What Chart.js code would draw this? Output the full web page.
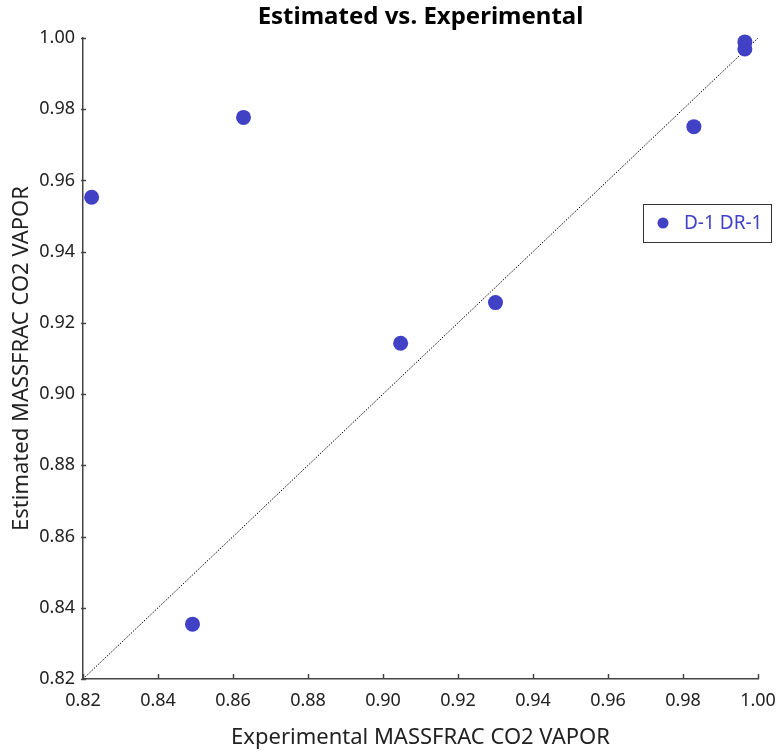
<!DOCTYPE html>
<html>
<head>
<meta charset="utf-8">
<script src="https://cdn.jsdelivr.net/npm/chart.js@4/dist/chart.umd.min.js"></script>
<style>
  html, body { margin: 0; padding: 0; background: #ffffff; }
  #wrap { width: 776px; height: 753px; position: relative; }
</style>
</head>
<body>
<div id="wrap"><canvas id="chart" width="776" height="753"></canvas></div>
<script>
// Experimental vs. estimated CO2 vapour mass fractions
const seriesLabel = 'D-1 DR-1';
const experimental = [0.9965, 0.9965, 0.9829, 0.8628, 0.8223, 0.9300, 0.9047, 0.8492];
const estimated    = [0.9989, 0.9969, 0.9751, 0.9777, 0.9553, 0.9257, 0.9143, 0.8354];
const axisMin = 0.82;
const axisMax = 1.00;
const axisStep = 0.02;
const titleText = 'Estimated vs. Experimental';
const xTitle = 'Experimental MASSFRAC CO2 VAPOR';
const yTitle = 'Estimated MASSFRAC CO2 VAPOR';

const FONT = '"Noto Sans", "Open Sans", sans-serif';
const MARK = '#4141c6';
const AXIS = '#444444';

const points = experimental.map((x, i) => ({ x: x, y: estimated[i] }));
const parity = [{ x: axisMin, y: axisMin }, { x: axisMax, y: axisMax }];

// Title centred over the plot area, inward tick marks and the boxed legend
const decorations = {
  id: 'decorations',
  afterDraw(chart) {
    const { ctx, chartArea: a, scales } = chart;
    ctx.save();
    // title
    ctx.fillStyle = '#000';
    ctx.font = 'bold 24px ' + FONT;
    ctx.textAlign = 'center';
    ctx.textBaseline = 'middle';
    ctx.fillText(titleText, (a.left + a.right) / 2, 17.5);

    // tick marks
    ctx.strokeStyle = AXIS;
    ctx.lineWidth = 1.5;
    scales.x.ticks.forEach(t => {
      const px = Math.round(scales.x.getPixelForValue(t.value)) + 0.5;
      ctx.beginPath();
      ctx.moveTo(px, a.bottom);
      ctx.lineTo(px, a.bottom - 5);
      ctx.stroke();
    });
    scales.y.ticks.forEach(t => {
      const py = Math.round(scales.y.getPixelForValue(t.value)) + 0.5;
      ctx.beginPath();
      ctx.moveTo(a.left - 2, py);
      ctx.lineTo(a.left + 3, py);
      ctx.stroke();
    });

    // legend box
    const ds = chart.data.datasets[1];
    const bx = 643, by = 204, bw = 128, bh = 38;
    ctx.fillStyle = '#ffffff';
    ctx.fillRect(bx, by, bw, bh);
    ctx.strokeStyle = '#333333';
    ctx.lineWidth = 1;
    ctx.strokeRect(bx + 0.5, by + 0.5, bw, bh);
    ctx.fillStyle = ds.backgroundColor;
    ctx.beginPath();
    ctx.arc(bx + 20, by + 19, 5.5, 0, Math.PI * 2);
    ctx.fill();
    ctx.font = '19px ' + FONT;
    ctx.textAlign = 'left';
    ctx.textBaseline = 'middle';
    ctx.fillText(ds.label, bx + 41, by + 20);
    ctx.restore();
  }
};

new Chart(document.getElementById('chart'), {
  type: 'scatter',
  data: {
    datasets: [
      {
        type: 'line',
        label: 'parity',
        data: parity,
        borderColor: '#000000',
        borderWidth: 1,
        borderDash: [1.5, 1.5],
        pointRadius: 0,
        fill: false,
        order: 2
      },
      {
        label: seriesLabel,
        data: points,
        backgroundColor: MARK,
        borderColor: MARK,
        pointRadius: 7.5,
        pointBorderWidth: 0,
        clip: false,
        order: 1
      }
    ]
  },
  options: {
    responsive: false,
    animation: false,
    layout: { padding: { top: 38, right: 18, bottom: 0, left: 0 } },
    plugins: {
      legend: { display: false },
      title: { display: false },
      tooltip: { enabled: false }
    },
    scales: {
      x: {
        type: 'linear',
        min: axisMin,
        max: axisMax,
        ticks: {
          stepSize: axisStep,
          color: '#222',
          font: { family: FONT, size: 18 },
          padding: 11,
          maxRotation: 0,
          callback: v => v.toFixed(2)
        },
        grid: { display: false, drawTicks: false },
        border: { display: true, color: AXIS, width: 1.5 },
        title: {
          display: true,
          text: xTitle,
          color: '#222',
          font: { family: FONT, size: 22 },
          padding: { top: 0, bottom: 2 }
        },
        afterFit: s => { s.height = 74; s.paddingLeft = 0; s.paddingRight = 0; }
      },
      y: {
        type: 'linear',
        min: axisMin,
        max: axisMax,
        ticks: {
          stepSize: axisStep,
          color: '#222',
          font: { family: FONT, size: 18 },
          padding: 8,
          callback: v => v.toFixed(2)
        },
        grid: { display: false, drawTicks: false },
        border: { display: true, color: AXIS, width: 1.5 },
        title: {
          display: true,
          text: yTitle,
          color: '#222',
          font: { family: FONT, size: 22 },
          padding: { top: 9, bottom: 0 }
        },
        afterFit: s => { s.width = 83; s.paddingTop = 0; s.paddingBottom = 0; }
      }
    }
  },
  plugins: [decorations]
});
</script>
</body>
</html>
